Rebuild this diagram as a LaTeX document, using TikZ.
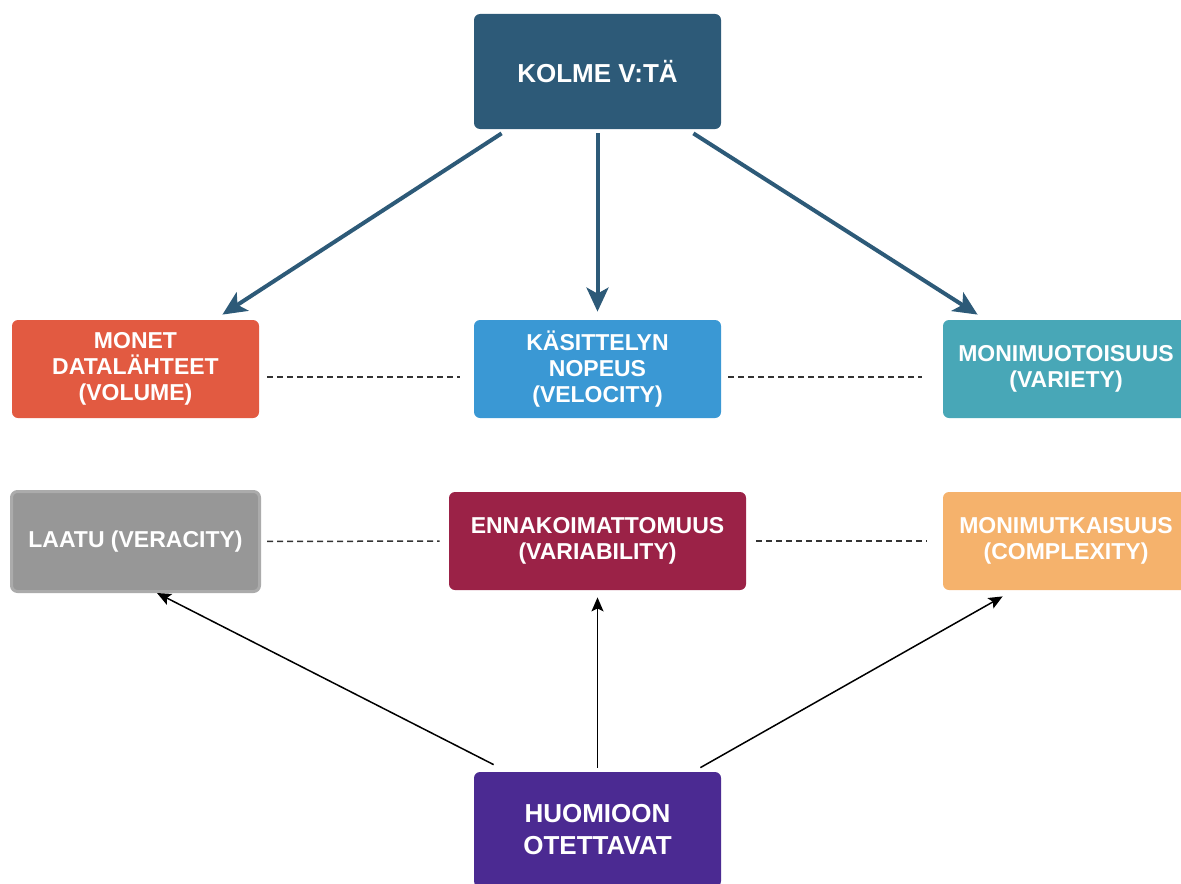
\documentclass[tikz,border=0pt]{standalone}
\usepackage{fontspec}
\setmainfont{Liberation Sans}
\usetikzlibrary{positioning,arrows.meta}

\definecolor{vblue}{HTML}{2D5A78}
\definecolor{vred}{HTML}{E25A41}
\definecolor{vsky}{HTML}{3A98D4}
\definecolor{vteal}{HTML}{48A7B7}
\definecolor{vgray}{HTML}{979797}
\definecolor{vgrayedge}{HTML}{ABABAB}
\definecolor{vwine}{HTML}{9B2247}
\definecolor{vorange}{HTML}{F5B26C}
\definecolor{vpurple}{HTML}{4B2A92}

\begin{document}
\begin{tikzpicture}[on grid,
    box/.style={rectangle, rounded corners=3pt, text=white, align=center,
      font=\bfseries\fontsize{11.5}{13}\selectfont,
      minimum width=123.5pt, minimum height=49pt, inner sep=1pt},
    bigbox/.style={box, font=\bfseries\fontsize{13}{16}\selectfont,
      minimum height=57.5pt},
    vline/.style={vblue, line width=2pt, -{Stealth[length=12pt,width=11pt,inset=3pt]}},
    hline/.style={black, line width=0.75pt, -{Stealth[length=7pt,width=6pt,inset=1.5pt]}},
    pair/.style={dash pattern=on 3pt off 2pt, line width=0.75pt, black!80}]

    \useasboundingbox (0,0) rectangle (590.5pt,-441.5pt);

    \node[bigbox, fill=vblue] (kolme) at (298.75pt,-35.75pt) {KOLME V:TÄ};
    \node[box, fill=vsky] (velocity) [below=148.75pt of kolme] {KÄSITTELYN\\NOPEUS\\(VELOCITY)};
    \node[box, fill=vred] (volume) [left=231pt of velocity] {MONET\\DATALÄHTEET\\(VOLUME)};
    \node[box, fill=vteal, minimum width=123pt] (variety) [right=234.25pt of velocity] {MONIMUOTOISUUS\\(VARIETY)};

    \node[box, fill=vwine, minimum width=148.5pt] (variability) [below=86pt of velocity] {ENNAKOIMATTOMUUS\\(VARIABILITY)};
    \node[box, fill=vgray, draw=vgrayedge, line width=1.5pt, minimum width=124pt, minimum height=50pt] (veracity) [left=231pt of variability, yshift=-0.25pt] {LAATU (VERACITY)};
    \node[box, fill=vorange, minimum width=123pt] (complexity) [right=234.25pt of variability] {MONIMUTKAISUUS\\(COMPLEXITY)};
    \node[bigbox, fill=vpurple] (huomioon) [below=144.25pt of variability] {HUOMIOON\\OTETTAVAT};

    % the three V's
    \draw[vline] ([shift={(14pt,-2pt)}]kolme.south west) -- ([shift={(-18.5pt,2.5pt)}]volume.north east);
    \draw[vline] ([yshift=-2pt]kolme.south) -- ([yshift=4pt]velocity.north);
    \draw[vline] ([shift={(-14pt,-2pt)}]kolme.south east) -- ([shift={(17.5pt,2.5pt)}]variety.north west);

    % things to take into account
    \draw[hline] ([shift={(10pt,3.5pt)}]huomioon.north west) -- ([xshift=73.5pt]veracity.south west);
    \draw[hline] ([yshift=2pt]huomioon.north) -- ([yshift=-3.5pt]variability.south);
    \draw[hline] ([shift={(-10.5pt,2pt)}]huomioon.north east) -- ([shift={(30pt,-3pt)}]complexity.south west);

    \draw[pair, shorten <=4pt, shorten >=7pt] ([yshift=-4pt]volume.east) -- ([yshift=-4pt]velocity.west);
    \draw[pair, shorten <=3.5pt, shorten >=10.5pt] ([yshift=-4pt]velocity.east) -- ([yshift=-4pt]variety.west);
    \draw[pair, shorten <=3pt, shorten >=4.5pt] (veracity.east) -- (variability.west);
    \draw[pair, shorten <=5pt, shorten >=8pt] (variability.east) -- (complexity.west);
\end{tikzpicture}
\end{document}
